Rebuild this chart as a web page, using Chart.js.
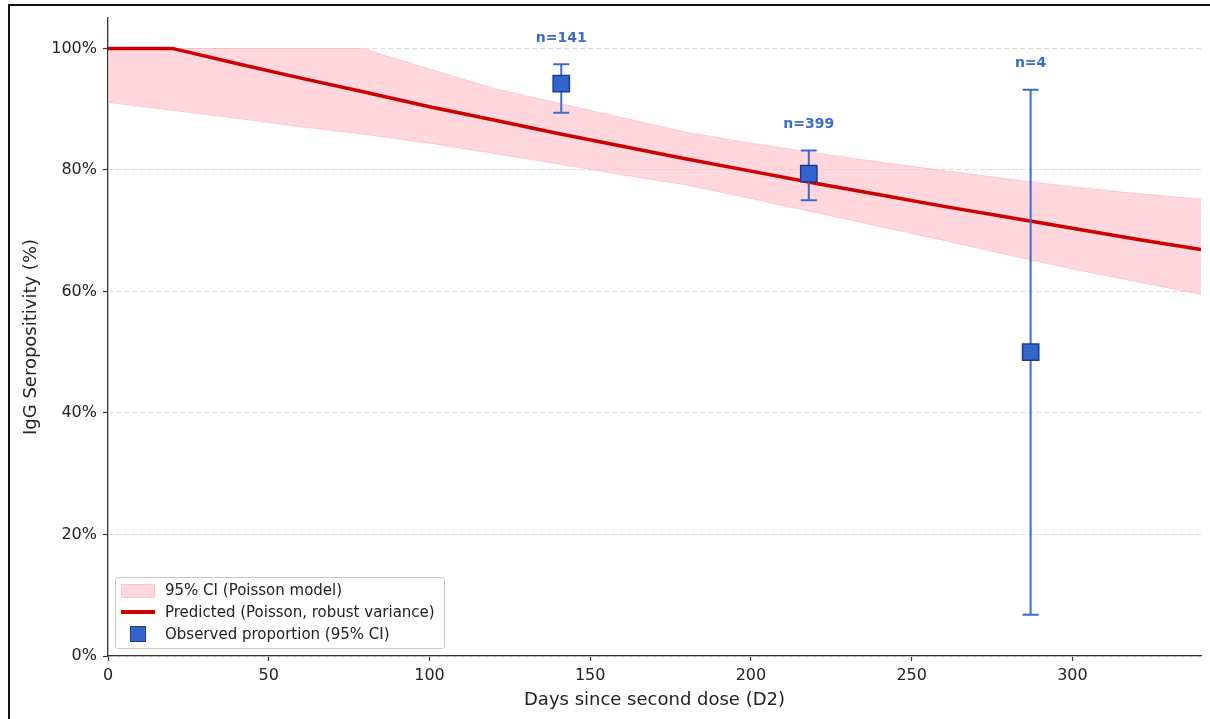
<!DOCTYPE html>
<html>
<head>
<meta charset="utf-8">
<script src="https://cdn.jsdelivr.net/npm/chart.js@4.4.0/dist/chart.umd.min.js"></script>
<style>
  body { margin: 0; background: #fff; }
  #wrap { position: relative; width: 1210px; height: 719px; overflow: hidden; }
  #chart { position: absolute; left: 0; top: 0; }
  #frame { position: absolute; left: 8px; top: 4px; width: 1300px; height: 800px;
           border-left: 2px solid #111; border-top: 2px solid #111; pointer-events: none; }
  #legend { position: absolute; left: 115px; top: 577px; width: 328px; height: 70px;
            border: 1px solid #c8c8c8; border-radius: 3px; background: rgba(255,255,255,0.85);
            font: 15px "DejaVu Sans", sans-serif; color: #222; }
  .row { position: absolute; left: 0; width: 100%; height: 22px; line-height: 22px; }
  .row .t { position: absolute; left: 49px; white-space: nowrap; }
  .sw { position: absolute; }
</style>
</head>
<body>
<div id="wrap">
  <canvas id="chart" width="1214" height="719"></canvas>
  <div id="frame"></div>
  <div id="legend">
    <div class="row" style="top:1px">
      <div class="sw" style="left:5px;top:5px;width:32px;height:12px;background:rgba(255,182,193,0.55);border:1px solid rgba(255,160,175,0.35)"></div>
      <span class="t">95% CI (Poisson model)</span>
    </div>
    <div class="row" style="top:23px">
      <div class="sw" style="left:5px;top:9px;width:34px;height:4px;background:#cc0000"></div>
      <span class="t">Predicted (Poisson, robust variance)</span>
    </div>
    <div class="row" style="top:45px">
      <div class="sw" style="left:14px;top:3px;width:14px;height:14px;background:#3366cc;border:1.5px solid #1f3a93"></div>
      <span class="t">Observed proportion (95% CI)</span>
    </div>
  </div>
</div>
<script>
// model curve + CI band
const days      = [0, 20, 40, 60, 79, 100, 120, 140, 160, 180, 200, 220, 240, 260, 280, 300, 320, 340];
const predicted = [100, 100, 97.5, 95.1, 92.9, 90.4, 88.2, 86.0, 83.9, 81.8, 79.8, 77.8, 75.9, 74.0, 72.2, 70.4, 68.6, 66.9];
const ciUpper   = [100, 100, 100, 100, 100, 96.6, 93.4, 91.0, 88.6, 86.2, 84.4, 82.8, 81.3, 79.9, 78.5, 77.2, 76.1, 75.2];
const ciLower   = [91.1, 89.8, 88.5, 87.1, 85.9, 84.4, 82.7, 81.0, 79.2, 77.5, 75.3, 73.0, 70.7, 68.4, 66.0, 63.7, 61.6, 59.5];

// observed proportions
const obsDays = [141, 218, 287];
const obsPct  = [94.2, 79.4, 50.0];
const obsLo   = [89.4, 75.0, 6.8];
const obsHi   = [97.4, 83.2, 93.2];
const obsN    = ['n=141', 'n=399', 'n=4'];

const xTicks = [0, 50, 100, 150, 200, 250, 300];
const yTicks = [0, 20, 40, 60, 80, 100];

const FONT = 'DejaVu Sans';
const BLUE = '#3a6bd2';

const pts = (xs, ys) => xs.map((x, i) => ({x: x, y: ys[i]}));

// error bars under the squares
const errorBars = {
  id: 'errorBars',
  beforeDatasetDraw(chart, args) {
    if (args.index !== 3) return;
    const ctx = chart.ctx, xs = chart.scales.x, ys = chart.scales.y;
    ctx.save();
    ctx.strokeStyle = BLUE;
    ctx.lineWidth = 2;
    obsDays.forEach((d, i) => {
      const px = xs.getPixelForValue(d);
      const top = ys.getPixelForValue(obsHi[i]);
      const bot = ys.getPixelForValue(obsLo[i]);
      ctx.beginPath();
      ctx.moveTo(px, top); ctx.lineTo(px, bot);
      ctx.moveTo(px - 8, top); ctx.lineTo(px + 8, top);
      ctx.moveTo(px - 8, bot); ctx.lineTo(px + 8, bot);
      ctx.stroke();
    });
    ctx.restore();
  }
};

// n= labels above each bar
const nLabels = {
  id: 'nLabels',
  afterDatasetsDraw(chart) {
    const ctx = chart.ctx, xs = chart.scales.x, ys = chart.scales.y;
    ctx.save();
    ctx.fillStyle = BLUE;
    ctx.font = 'bold 14px "' + FONT + '"';
    ctx.textAlign = 'center';
    ctx.textBaseline = 'middle';
    obsDays.forEach((d, i) => {
      ctx.fillText(obsN[i], xs.getPixelForValue(d), ys.getPixelForValue(obsHi[i]) - 26);
    });
    ctx.restore();
  }
};

new Chart(document.getElementById('chart'), {
  type: 'line',
  data: {
    datasets: [
      {
        label: '95% CI upper',
        data: pts(days, ciUpper),
        order: 4,
        fill: '+1',
        backgroundColor: 'rgba(255,182,193,0.55)',
        borderColor: 'rgba(255,160,175,0.45)',
        borderWidth: 1,
        pointRadius: 0,
        tension: 0
      },
      {
        label: '95% CI lower',
        data: pts(days, ciLower),
        order: 3,
        fill: false,
        borderColor: 'rgba(255,160,175,0.45)',
        borderWidth: 1,
        pointRadius: 0,
        tension: 0
      },
      {
        label: 'Predicted',
        data: pts(days, predicted),
        order: 2,
        fill: false,
        borderColor: '#cc0000',
        borderWidth: 3.5,
        pointRadius: 0,
        tension: 0
      },
      {
        label: 'Observed',
        data: pts(obsDays, obsPct),
        order: 1,
        showLine: false,
        pointStyle: 'rect',
        pointRadius: 11.5,
        pointBackgroundColor: '#3366cc',
        pointBorderColor: '#1f3a93',
        pointBorderWidth: 1.5
      }
    ]
  },
  options: {
    responsive: false,
    animation: false,
    devicePixelRatio: 1,
    layout: { padding: { top: 18, right: 9, left: 0, bottom: 0 } },
    plugins: { legend: { display: false }, tooltip: { enabled: false } },
    scales: {
      x: {
        type: 'linear',
        min: 0,
        max: 340,
        afterBuildTicks: s => { s.ticks = xTicks.map(v => ({value: v})); },
        afterFit: s => { s.height = 63; s.paddingLeft = 0; s.paddingRight = 0; },
        grid: { display: true, drawOnChartArea: false, drawTicks: true, tickLength: 5, tickColor: '#333', tickWidth: 1.2 },
        border: { color: '#333', width: 1.3 },
        ticks: { color: '#222', font: { family: FONT, size: 16 }, padding: 5, maxRotation: 0 },
        title: { display: true, text: 'Days since second dose (D2)', color: '#222',
                 font: { family: FONT, size: 18 }, padding: { top: 0, bottom: 8 } }
      },
      y: {
        min: 0,
        max: 105,
        afterBuildTicks: s => { s.ticks = yTicks.map(v => ({value: v})); },
        afterFit: s => { s.width = 108; },
        grid: { color: '#dcdcdc', lineWidth: 1, tickBorderDash: [],
                tickLength: 5, tickColor: '#333', tickWidth: 1.2 },
        border: { color: '#333', width: 1.3, dash: [5, 3] },
        ticks: { color: '#222', font: { family: FONT, size: 16 }, padding: 6, callback: v => v + '%' },
        title: { display: true, text: 'IgG Seropositivity (%)', color: '#222',
                 font: { family: FONT, size: 18 }, padding: { top: 21, bottom: 0 } }
      }
    }
  },
  plugins: [errorBars, nLabels]
});
</script>
</body>
</html>
